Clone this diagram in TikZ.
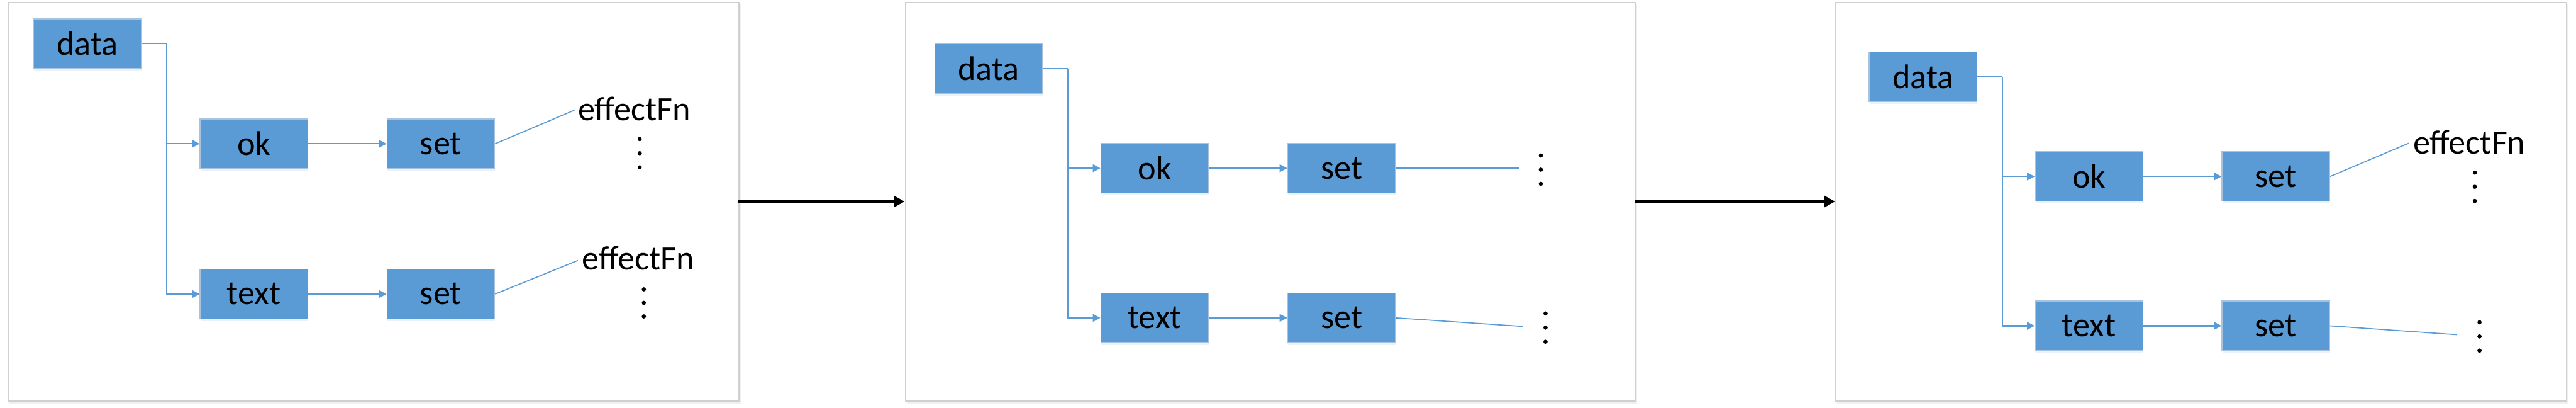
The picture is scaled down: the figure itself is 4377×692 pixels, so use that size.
\documentclass[tikz,border=0pt]{standalone}
\usepackage{fontspec}
\setmainfont{Carlito}
\usetikzlibrary{arrows.meta,shadows}
\definecolor{boxblue}{HTML}{5B9BD5}
\definecolor{boxedge}{HTML}{A9C3DE}
\definecolor{panelgray}{HTML}{D0D0D0}
\tikzset{
  box/.style={rectangle, fill=boxblue, draw=boxedge, line width=1.5pt, minimum width=183pt, minimum height=84pt, inner sep=0pt,
    font=\fontsize{58pt}{70pt}\selectfont, text=black,
    drop shadow={shadow xshift=1pt, shadow yshift=-4pt, opacity=0.12, fill=boxblue}},
  lbl/.style={anchor=base west, inner sep=0pt, font=\fontsize{58pt}{70pt}\selectfont},
  conn/.style={draw=boxblue, line width=2.2pt},
  arr/.style={conn, -{Triangle[length=13pt,width=13pt]}},
  panelbox/.style={draw=panelgray, line width=2pt, fill=white},
  bigarr/.style={draw=black, line width=3.5pt, line cap=round, -{Triangle[length=18pt,width=19pt]}},
  vdot/.style={fill=black, draw=none},
}
\begin{document}
\begin{tikzpicture}[x=1pt,y=-1pt]
\useasboundingbox (0,0) rectangle (4377,692);
\fill[white] (0,0) rectangle (4377,692);
% panels
\fill[black!6] (16,8) rectangle (1259,686);
\fill[black!6] (1541,8) rectangle (2782,686);
\fill[black!6] (3121,8) rectangle (4364,686);
\draw[panelbox] (14,4) rectangle (1256,681);
\draw[panelbox] (1539,4) rectangle (2779,681);
\draw[panelbox] (3119,4) rectangle (4361,681);

% ---------- panel 1 ----------
\node[box] (d1) at (148.5,74) {data};
\node[box] (ok1) at (431.5,244) {ok};
\node[box] (s1a) at (749,244) {set};
\node[box] (t1) at (431.5,499) {text};
\node[box] (s1b) at (749,499) {set};
\coordinate (j1) at (283,74);
\draw[conn] (d1.east) -- (j1);
\draw[arr] (j1) |- (ok1.west);
\draw[arr] (j1) |- (t1.west);
\draw[arr] (ok1.east) -- (s1a.west);
\draw[arr] (t1.east) -- (s1b.west);
\node[lbl] (e1a) at (982,205) {effectFn};
\node[lbl] (e1b) at (989,458) {effectFn};
\coordinate (c1a) at (976,187);
\coordinate (c1b) at (982,442);
\draw[conn, line width=1.8pt] (s1a.east) -- (c1a);
\draw[conn, line width=1.8pt] (s1b.east) -- (c1b);
\foreach \yy in {236,260,284} \fill[vdot] (1087,\yy) circle (3.6pt);
\foreach \yy in {491,514,537} \fill[vdot] (1094,\yy) circle (3.6pt);

% arrow 1
\coordinate (a1s) at (1255,342);
\coordinate (a1e) at (1537,342);
\draw[bigarr] (a1s) -- (a1e);

% ---------- panel 2 ----------
\node[box] (d2) at (1680,116) {data};
\node[box] (ok2) at (1962,285.5) {ok};
\node[box] (s2a) at (2279.5,285.5) {set};
\node[box] (t2) at (1962,539.5) {text};
\node[box] (s2b) at (2279.5,539.5) {set};
\coordinate (j2) at (1815,116);
\draw[conn] (d2.east) -- (j2);
\draw[arr] (j2) |- (ok2.west);
\draw[arr] (j2) |- (t2.west);
\draw[arr] (ok2.east) -- (s2a.west);
\draw[arr] (t2.east) -- (s2b.west);
\coordinate (c2a) at (2581,285.5);
\coordinate (c2b) at (2588,554);
\draw[conn, line width=1.8pt] (s2a.east) -- (c2a);
\draw[conn, line width=1.8pt] (s2b.east) -- (c2b);
\foreach \yy in {264,288,312} \fill[vdot] (2618,\yy) circle (3.6pt);
\foreach \yy in {532,556,580} \fill[vdot] (2626,\yy) circle (3.6pt);

% arrow 2
\coordinate (a2s) at (2779,342);
\coordinate (a2e) at (3118,342);
\draw[bigarr] (a2s) -- (a2e);

% ---------- panel 3 ----------
\node[box] (d3) at (3267.5,130) {data};
\node[box] (ok3) at (3549.5,299.5) {ok};
\node[box] (s3a) at (3867,299.5) {set};
\node[box] (t3) at (3549.5,553) {text};
\node[box] (s3b) at (3867,553) {set};
\coordinate (j3) at (3402,130);
\draw[conn] (d3.east) -- (j3);
\draw[arr] (j3) |- (ok3.west);
\draw[arr] (j3) |- (t3.west);
\draw[arr] (ok3.east) -- (s3a.west);
\draw[arr] (t3.east) -- (s3b.west);
\node[lbl] (e3a) at (4100,261) {effectFn};
\coordinate (c3a) at (4093,243);
\coordinate (c3b) at (4175,568);
\draw[conn, line width=1.8pt] (s3a.east) -- (c3a);
\draw[conn, line width=1.8pt] (s3b.east) -- (c3b);
\foreach \yy in {293,317,341} \fill[vdot] (4205,\yy) circle (3.6pt);
\foreach \yy in {547,571,595} \fill[vdot] (4213,\yy) circle (3.6pt);
\end{tikzpicture}
\end{document}
